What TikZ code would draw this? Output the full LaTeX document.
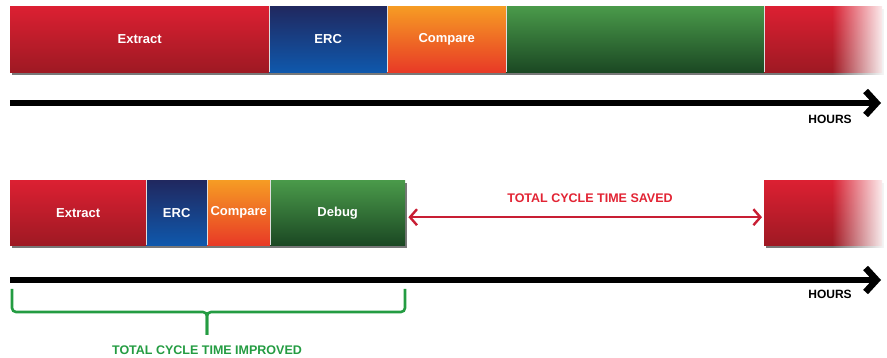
\documentclass[tikz,border=0pt]{standalone}
\usepackage{fontspec}
\setmainfont{Liberation Sans}
\usetikzlibrary{arrows.meta,calc,fadings}
\definecolor{redTop}{RGB}{220,32,50}
\definecolor{redBot}{RGB}{158,25,35}
\definecolor{navyTop}{RGB}{32,40,95}
\definecolor{navyBot}{RGB}{15,88,172}
\definecolor{orangeTop}{RGB}{246,156,36}
\definecolor{orangeBot}{RGB}{232,58,38}
\definecolor{greenTop}{RGB}{74,154,74}
\definecolor{greenBot}{RGB}{27,72,35}
\definecolor{savedRed}{RGB}{226,36,52}
\definecolor{arrowRed}{RGB}{200,30,52}
\definecolor{braceGreen}{RGB}{36,156,66}
\definecolor{shadowGray}{RGB}{120,120,120}
\tikzfading[name=fadetowhite, left color=transparent!100, right color=transparent!0]
\tikzset{
  seg/.style={anchor=north west, inner sep=0pt, minimum height=66pt,
    text=white, font=\bfseries\fontsize{13}{15}\selectfont},
  redseg/.style={seg, top color=redTop, bottom color=redBot},
  navyseg/.style={seg, top color=navyTop, bottom color=navyBot},
  orangeseg/.style={seg, top color=orangeTop, bottom color=orangeBot},
  greenseg/.style={seg, top color=greenTop, bottom color=greenBot},
  sep/.style={draw=white!75!gray, line width=0.7pt},
  barshadow/.style={fill=shadowGray},
  axis/.style={line width=6.5pt, -{Straight Barb[length=11pt,width=24pt]}},
  hours/.style={font=\bfseries\fontsize{12}{14}\selectfont, inner sep=0pt},
  savedarrow/.style={arrowRed, line width=2.4pt, {Straight Barb[length=7pt,width=16pt]}-{Straight Barb[length=7pt,width=16pt]}},
  savedlabel/.style={text=savedRed, font=\bfseries\fontsize{12.5}{14}\selectfont, inner sep=0pt},
  bracepath/.style={draw=braceGreen, line width=2.6pt, rounded corners=4pt},
  improvedlabel/.style={text=braceGreen, font=\bfseries\fontsize{12.5}{14}\selectfont, inner sep=0pt}
}
\begin{document}
\begin{tikzpicture}[x=1pt,y=-1pt]
\useasboundingbox (0,0) rectangle (887,358);
% ---------- top timeline ----------
\fill[barshadow] (12,9) rectangle (884,75);
\node[redseg, minimum width=259pt] (ex1) at (10,6) {Extract};
\node[navyseg, minimum width=118pt] (erc1) at (269,6) {ERC};
\node[orangeseg, minimum width=119pt] (cmp1) at (387,6) {Compare};
\node[greenseg, minimum width=258pt] (dbg1) at (506,6) {};
\node[redseg, minimum width=118pt] (nx1) at (764,6) {};
\draw[sep] (ex1.north east) -- (ex1.south east);
\draw[sep] (erc1.north east) -- (erc1.south east);
\draw[sep] (cmp1.north east) -- (cmp1.south east);
\draw[sep] (dbg1.north east) -- (dbg1.south east);
\fill[white, path fading=fadetowhite] (832,3) rectangle (887,78);
% axis 1
\coordinate (a1s) at (10,103);
\coordinate (a1e) at (881,103);
\draw[axis] (a1s) -- (a1e);
\node[hours] (h1) at (830,119) {HOURS};
% ---------- bottom timeline ----------
\fill[barshadow] (12,183) rectangle (407,248);
\fill[barshadow] (766,183) rectangle (884,248);
\node[redseg, minimum width=136pt, minimum height=65pt] (ex2) at (10,180) {Extract};
\node[navyseg, minimum width=61pt, minimum height=65pt] (erc2) at (146,180) {ERC};
\node[orangeseg, minimum width=63pt, minimum height=65pt] (cmp2) at (207,180) {Compare};
\node[greenseg, minimum width=135pt, minimum height=65pt] (dbg2) at (270,180) {Debug};
\node[redseg, minimum width=118pt, minimum height=65pt] (nx2) at (764,180) {};
\draw[sep] (ex2.north east) -- (ex2.south east);
\draw[sep] (erc2.north east) -- (erc2.south east);
\draw[sep] (cmp2.north east) -- (cmp2.south east);
\fill[white, path fading=fadetowhite] (832,176) rectangle (887,251);
% saved arrow
\draw[savedarrow] ($(dbg2.east)+(3,4.5)$) -- ($(nx2.west)+(-2,4.5)$);
\node[savedlabel] (saved) at (590,198) {TOTAL CYCLE TIME SAVED};
% axis 2
\coordinate (a2s) at (10,280);
\coordinate (a2e) at (881,280);
\draw[axis] (a2s) -- (a2e);
\node[hours] (h2) at (830,294) {HOURS};
% brace
\coordinate (bl) at (12,289);
\coordinate (br) at (405,289);
\coordinate (bt) at (207,335);
\draw[bracepath] (bl) -- (12,312) -- (207,312) -- (bt);
\draw[bracepath] (br) -- (405,312) -- (207,312) -- (bt);
\node[improvedlabel] (improved) at (207,350) {TOTAL CYCLE TIME IMPROVED};
\end{tikzpicture}
\end{document}
